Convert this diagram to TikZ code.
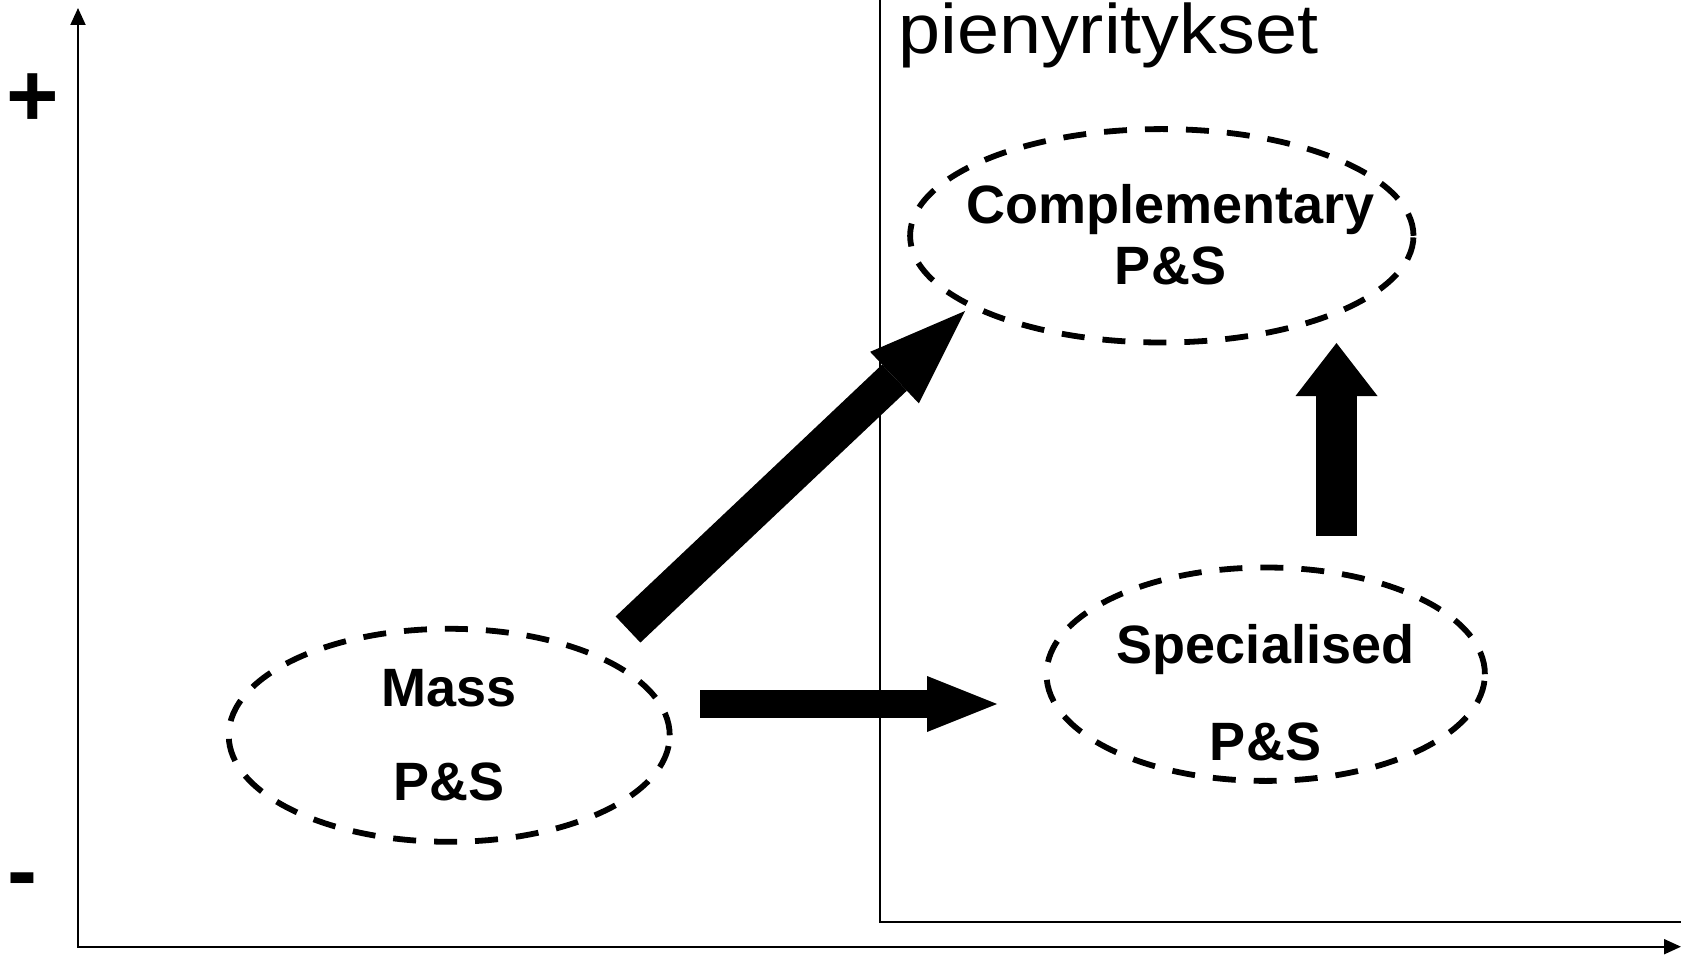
\documentclass[tikz,border=0pt]{standalone}
\usepackage{fontspec}
\setmainfont{Liberation Sans}
\usepackage{graphicx}
\usetikzlibrary{arrows.meta,shapes.geometric}

\begin{document}
\begin{tikzpicture}[x=1pt,y=-1pt,
  axisline/.style={line width=2pt},
  axistip/.tip={Triangle[length=17pt,width=15pt]},
  frameline/.style={line width=1.8pt},
  group/.style={ellipse, draw, line width=5.8pt, dash pattern=on 23pt off 18pt, inner sep=0pt},
  lbl/.style={align=center, inner sep=0pt},
  sign/.style={font=\fontsize{90}{100}\selectfont\bfseries, inner sep=0pt, anchor=base},
  blockarrow/.style n args={3}{line width=#1, -{Triangle[length=#2,width=#3,line width=0pt]}}]

\useasboundingbox (0,0) rectangle (1681,957);

% frame of the small-business region
\coordinate (ftop) at (880,-10);
\coordinate (fright) at (1700,922);
\draw[frameline] (ftop) |- (fright);

% axes
\coordinate (O) at (78,946.7);
\coordinate (ytop) at (78,8);
\coordinate (xend) at (1681,946.7);
\draw[axisline, {axistip}-{axistip}] (ytop) -- (O) -- (xend);

% axis signs
\node[sign] (plus) at (32.5,127) {+};
\node[sign] (minus) at (22,901) {-};

% region title
\node[anchor=base west, inner sep=0pt, font=\fontsize{70}{80}\selectfont] (title) at (898,53.5)
  {\scalebox{1.08}[1]{pienyritykset}};

% product and service groups
\node[group, minimum width=441pt, minimum height=213pt] (mass) at (449.2,735.3) {};
\node[group, minimum width=438.4pt, minimum height=213.4pt] (spec) at (1265.7,674.2) {};
\node[group, minimum width=503.4pt, minimum height=213.4pt] (comp) at (1161.8,235.8) {};

\node[lbl, font=\fontsize{54}{94.3}\selectfont\bfseries] (masslbl) at (449.2,735) {Mass\\P\&S};
\node[lbl, font=\fontsize{54}{96.7}\selectfont\bfseries] (speclbl) at (1265.5,692.6) {Specialised\\P\&S};
\node[lbl, font=\fontsize{54}{61.7}\selectfont\bfseries] (complbl) at (1170.5,234.8) {Complementary\\P\&S};

% transitions between groups
\coordinate (d0) at (628,629.5);
\coordinate (d1) at (965,311);
\draw[blockarrow={36pt}{97pt}{71pt}] (d0) -- (d1);

\coordinate (h0) at (700,704);
\coordinate (h1) at (997,704);
\draw[blockarrow={28pt}{70pt}{56pt}] (h0) -- (h1);

\coordinate (u0) at (1336.5,536);
\coordinate (u1) at (1336.5,343);
\draw[blockarrow={41pt}{53pt}{82pt}] (u0) -- (u1);

\end{tikzpicture}
\end{document}
